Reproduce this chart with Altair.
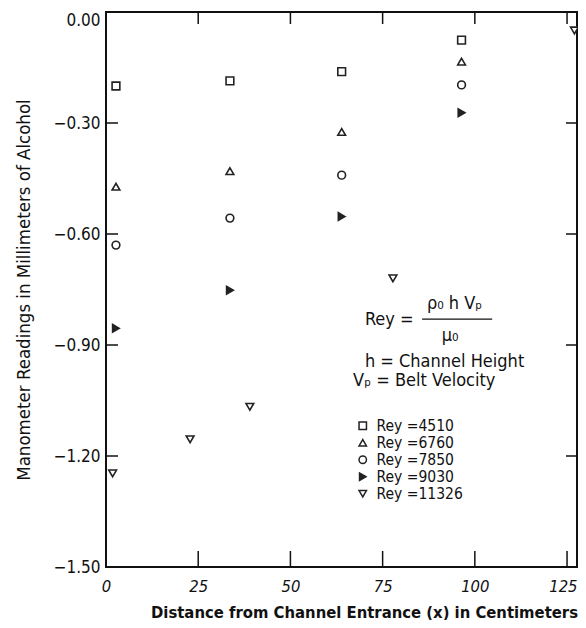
import altair as alt
import pandas as pd

FONT = "DejaVu Sans Condensed, Liberation Sans Narrow, DejaVu Sans"

# ---- data ----
x4 = [2.7, 33.6, 63.9, 96.4]
rey_4510 = [-0.200, -0.186, -0.161, -0.076]
rey_6760 = [-0.472, -0.430, -0.324, -0.134]
rey_7850 = [-0.630, -0.557, -0.441, -0.197]
rey_9030 = [-0.855, -0.752, -0.553, -0.272]
x5 = [1.8, 22.8, 39.0, 77.8, 127.0]
rey_11326 = [-1.247, -1.155, -1.067, -0.720, -0.050]

series_names = ["Rey =4510", "Rey =6760", "Rey =7850", "Rey =9030", "Rey =11326"]
series_shapes = ["square", "triangle-up", "circle", "triangle-right", "triangle-down"]
series_fills = ["white", "white", "white", "#222222", "white"]
series_strokes = ["#222222"] * 5

x_ticks = [25, 50, 75, 100, 125]
y_ticks = [-0.30, -0.60, -0.90, -1.20]
y_labels = [0.0, -0.3, -0.6, -0.9, -1.2, -1.5]
x_labels = [0, 25, 50, 75, 100, 125]

rows = []
for name, xs_, ys_ in zip(series_names,
                          [x4, x4, x4, x4, x5],
                          [rey_4510, rey_6760, rey_7850, rey_9030, rey_11326]):
    for a, b in zip(xs_, ys_):
        rows.append({"x": a, "y": b, "series": name})
df = pd.DataFrame(rows)

W, H = 471, 555
xs = alt.Scale(domain=[0, 127.7], nice=False, zero=False)
ys = alt.Scale(domain=[-1.5, 0.0], nice=False, zero=False)


def legend():
    return alt.Legend(title=None, orient="none", legendX=249, legendY=406,
                      labelFont=FONT, labelFontSize=15.5, labelColor="#111",
                      symbolSize=55, symbolStrokeWidth=1.5,
                      rowPadding=-1.3, labelOffset=6)


points = alt.Chart(df).mark_point(size=60, strokeWidth=1.6, opacity=1).encode(
    x=alt.X("x:Q", scale=xs,
            axis=alt.Axis(values=x_labels, title="Distance from Channel Entrance (x) in Centimeters",
                          grid=False, ticks=False, domain=False, labelFlush=False,
                          labelFont=FONT, labelFontSize=16.5, labelFontStyle="italic",
                          labelColor="#111", labelPadding=11,
                          labelAlign={"condition": {"test": "datum.value == 125", "value": "right"},
                                      "value": "center"},
                          labelOffset={"condition": {"test": "datum.value == 125", "value": 10},
                                       "value": 0},
                          titleFont=FONT, titleFontSize=16.5, titleFontWeight="bold",
                          titleColor="#111", titleX=258, titleY=37)),
    y=alt.Y("y:Q", scale=ys,
            axis=alt.Axis(values=y_labels, format=".2f", title="Manometer Readings in Millimeters of Alcohol",
                          grid=False, ticks=False, domain=False,
                          labelFont=FONT, labelFontSize=17, labelColor="#111", labelPadding=6,
                          labelBaseline={"expr": "datum.value == 0 ? 'top' : 'middle'"},
                          titleFont=FONT, titleFontSize=18.5, titleFontWeight="normal",
                          titleColor="#111", titleX=-83, titleY=277.5,
                          titleAlign="center", titleBaseline="middle")),
    shape=alt.Shape("series:N", scale=alt.Scale(domain=series_names, range=series_shapes),
                    legend=legend()),
    fill=alt.Fill("series:N", scale=alt.Scale(domain=series_names, range=series_fills),
                  legend=legend()),
    stroke=alt.Stroke("series:N", scale=alt.Scale(domain=series_names, range=series_strokes),
                      legend=legend()),
)

# inward ticks
yt = pd.DataFrame({"v": y_ticks})
xt = pd.DataFrame({"v": x_ticks})
left_ticks = alt.Chart(yt).mark_rule(color="#111", strokeWidth=1.5).encode(
    y=alt.Y("v:Q", scale=ys), x=alt.value(0), x2=alt.value(12))
right_ticks = alt.Chart(yt).mark_rule(color="#111", strokeWidth=1.5).encode(
    y=alt.Y("v:Q", scale=ys), x=alt.value(W - 11), x2=alt.value(W))
bottom_ticks = alt.Chart(xt).mark_rule(color="#111", strokeWidth=1.5).encode(
    x=alt.X("v:Q", scale=xs), y=alt.value(H - 16), y2=alt.value(H))
top_ticks = alt.Chart(xt).mark_rule(color="#111", strokeWidth=1.5).encode(
    x=alt.X("v:Q", scale=xs), y=alt.value(0), y2=alt.value(12))

# annotation (Rey definition)
ann_text = ["Rey =", "ρ₀ h Vₚ", "μ₀", "h = Channel Height", "Vₚ =  Belt Velocity"]
ann_x = [70.2, 94.5, 93.3, 70.2, 67.0]
ann_y = [-0.832, -0.789, -0.876, -0.946, -0.997]
ann_align = ["left", "center", "center", "left", "left"]
ann = pd.DataFrame({"t": ann_text, "x": ann_x, "y": ann_y, "a": ann_align})

ann_left = alt.Chart(ann[ann.a == "left"]).mark_text(
    font=FONT, fontSize=18, align="left", baseline="middle", color="#111").encode(
    x=alt.X("x:Q", scale=xs), y=alt.Y("y:Q", scale=ys), text="t:N")
ann_center = alt.Chart(ann[ann.a == "center"]).mark_text(
    font=FONT, fontSize=18, align="center", baseline="middle", color="#111").encode(
    x=alt.X("x:Q", scale=xs), y=alt.Y("y:Q", scale=ys), text="t:N")

bar = pd.DataFrame({"x": [85.7], "x2": [104.7], "y": [-0.830]})
frac_bar = alt.Chart(bar).mark_rule(color="#111", strokeWidth=1.3).encode(
    x=alt.X("x:Q", scale=xs), x2="x2:Q", y=alt.Y("y:Q", scale=ys))

chart = alt.layer(
    points, left_ticks, right_ticks, bottom_ticks, top_ticks, ann_left, ann_center, frac_bar
).properties(
    width=W, height=H,
    autosize=alt.AutoSizeParams(type="none"),
    padding={"left": 98, "top": 4, "right": 1, "bottom": 53},
    background="white",
).configure_view(
    stroke="#111", strokeWidth=2
)

chart.save("out.html", embed_options={"renderer": "svg", "actions": False})
